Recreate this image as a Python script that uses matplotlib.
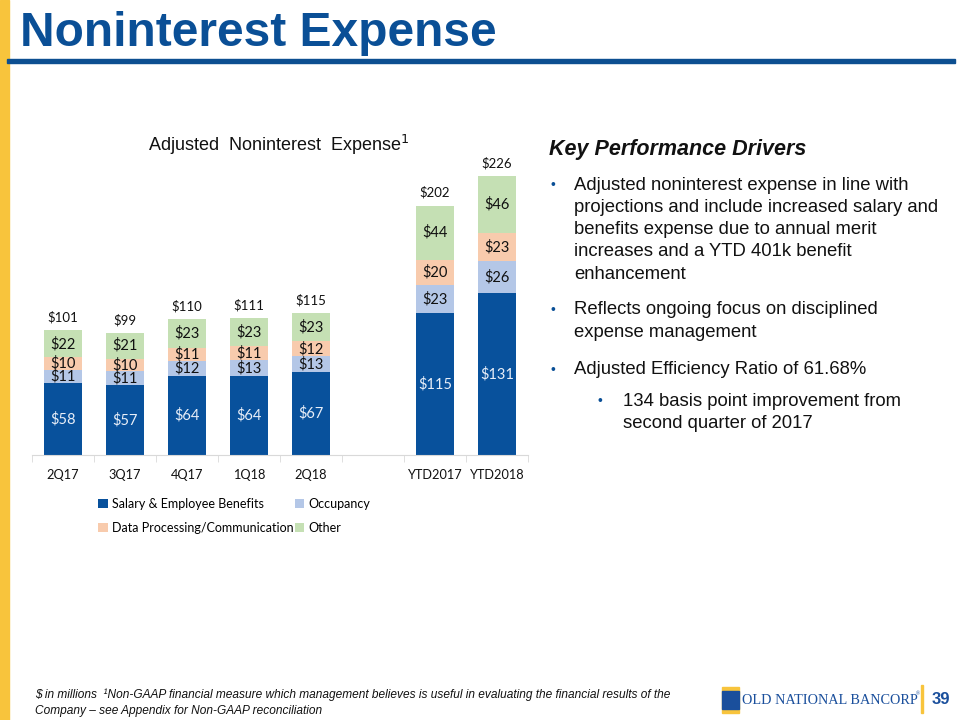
import matplotlib
matplotlib.use("Agg")
import matplotlib.pyplot as plt
from matplotlib.patches import Rectangle
import numpy as np

categories = ["2Q17", "3Q17", "4Q17", "1Q18", "2Q18", "", "YTD2017", "YTD2018"]
salary = [58, 57, 64, 64, 67, 0, 115, 131]
occupancy = [11, 11, 12, 13, 13, 0, 23, 26]
data_proc = [10, 10, 11, 11, 12, 0, 20, 23]
other = [22, 21, 23, 23, 23, 0, 44, 46]
totals = [101, 99, 110, 111, 115, None, 202, 226]
series_names = ["Salary & Employee Benefits", "Occupancy", "Data Processing/Communication", "Other"]

colors = ["#08519c", "#b4c7e7", "#f8cbad", "#c5e0b4"]
label_colors = ["#e8eef8", "#111111", "#111111", "#111111"]
BLUE = "#0a4f96"
YELLOW = "#f8c43c"

W, H = 960, 720
fig = plt.figure(figsize=(9.6, 7.2), dpi=100)

def fx(x):
    return x / W

def fy(y):
    return 1 - y / H

# left yellow bar
fig.patches.append(Rectangle((0, 0), fx(9), 1, transform=fig.transFigure, color=YELLOW, zorder=0))
# title
fig.text(fx(20), fy(34), "Noninterest Expense", fontsize=34.5, fontweight="bold", color=BLUE,
         family="Liberation Sans", va="center", ha="left")
fig.patches.append(Rectangle((fx(7), fy(63)), fx(948), 4 / H, transform=fig.transFigure, color="#0d4f91"))

# chart axes
base_y = 455
ppu = 1.235
ymax = 250
ax = fig.add_axes([fx(32), fy(base_y), fx(496), ymax * ppu / H])
x = np.arange(len(categories))
series = [salary, occupancy, data_proc, other]
bottom = np.zeros(len(categories))
bars = []
for vals, c, name in zip(series, colors, series_names):
    v = np.array(vals, dtype=float)
    b = ax.bar(x, v, 0.6, bottom=bottom, color=c, label=name, edgecolor="none")
    bars.append(b)
    bottom += v

bottom = np.zeros(len(categories))
for vals, lc in zip(series, label_colors):
    for i, val in enumerate(vals):
        if val:
            ax.text(x[i], bottom[i] + val / 2, f"${val}", ha="center", va="center",
                    fontsize=10.5, color=lc, family="Lato")
    bottom += np.array(vals, dtype=float)

for i, t in enumerate(totals):
    if t is not None:
        ax.text(x[i], t + 10.5, f"${t}", ha="center", va="center", fontsize=9.5,
                color="#111111", family="Lato")

ax.set_xlim(-0.5, len(categories) - 0.5)
ax.set_ylim(0, ymax)
for s in ["top", "right", "left"]:
    ax.spines[s].set_visible(False)
ax.spines["bottom"].set_color("#d9d9d9")
ax.set_yticks([])
ax.set_xticks(x)
ax.set_xticklabels(categories, fontsize=9.2, family="Lato", color="#111111")
ax.tick_params(axis="x", which="major", length=0, pad=10)
ax.set_xticks(np.arange(-0.5, len(categories)), minor=True)
ax.tick_params(axis="x", which="minor", length=5, color="#d9d9d9")

# chart title
fig.text(fx(279), fy(145), "Adjusted  Noninterest  Expense$^{1}$", fontsize=13,
         family="Liberation Sans", ha="center", va="center", color="#111111")

# legend
handles = [bars[0], bars[2], bars[1], bars[3]]
labels = [series_names[0], series_names[2], series_names[1], series_names[3]]
leg = fig.legend(handles, labels, ncol=2, loc="upper left", bbox_to_anchor=(fx(87), fy(487)),
                 frameon=False, handlelength=0.75, handleheight=0.75, handletextpad=0.35,
                 columnspacing=0.1, labelspacing=0.95, prop={"family": "Lato", "size": 9})

# right text
fig.text(fx(549), fy(150), "Key Performance Drivers", fontsize=15.5, fontweight="bold",
         style="italic", family="Liberation Sans", color="#111111", va="center")
bullets = [
    (553, 574, 185, ["Adjusted noninterest expense in line with",
                     "projections and include increased salary and",
                     "benefits expense due to annual merit",
                     "increases and a YTD 401k benefit",
                     "enhancement"]),
    (553, 574, 310, ["Reflects ongoing focus on disciplined",
                     "expense management"]),
    (553, 574, 370, ["Adjusted Efficiency Ratio of 61.68%"]),
    (600, 623, 401, ["134 basis point improvement from",
                     "second quarter of 2017"]),
]
for bx, tx, ty, lines in bullets:
    fig.text(fx(bx), fy(ty), "•", fontsize=10, color=BLUE, family="Liberation Sans",
             va="center", ha="center")
    for k, line in enumerate(lines):
        fig.text(fx(tx), fy(ty + k * 22.3), line, fontsize=13.3, color="#111111",
                 family="Liberation Sans", va="center", ha="left")

# footer
fig.text(fx(35), fy(695), "$ in millions  ¹Non-GAAP financial measure which management believes is useful in evaluating the financial results of the",
         fontsize=8.6, style="italic", family="Liberation Sans", color="#111111", va="center")
fig.text(fx(35), fy(711), "Company – see Appendix for Non-GAAP reconciliation",
         fontsize=8.6, style="italic", family="Liberation Sans", color="#111111", va="center")

# logo
fig.patches.append(Rectangle((fx(722), fy(713)), 17 / W, 26 / H, transform=fig.transFigure, color=YELLOW))
fig.patches.append(Rectangle((fx(722), fy(709)), 17 / W, 18 / H, transform=fig.transFigure, color="#1a4f9c"))
fig.text(fx(742), fy(700), "OLD NATIONAL BANCORP", fontsize=10.3, family="Liberation Serif",
         color="#1a4f9c", va="center", ha="left")
fig.text(fx(916), fy(694), "®", fontsize=4, family="Liberation Serif",
         color="#1a4f9c", va="center", ha="left")
fig.patches.append(Rectangle((fx(921), fy(713)), 2 / W, 28 / H, transform=fig.transFigure, color=YELLOW))
fig.text(fx(932), fy(699), "39", fontsize=12, fontweight="bold", family="Liberation Sans",
         color="#1a4f9c", va="center", ha="left")

fig.savefig("out.png", dpi=100)
